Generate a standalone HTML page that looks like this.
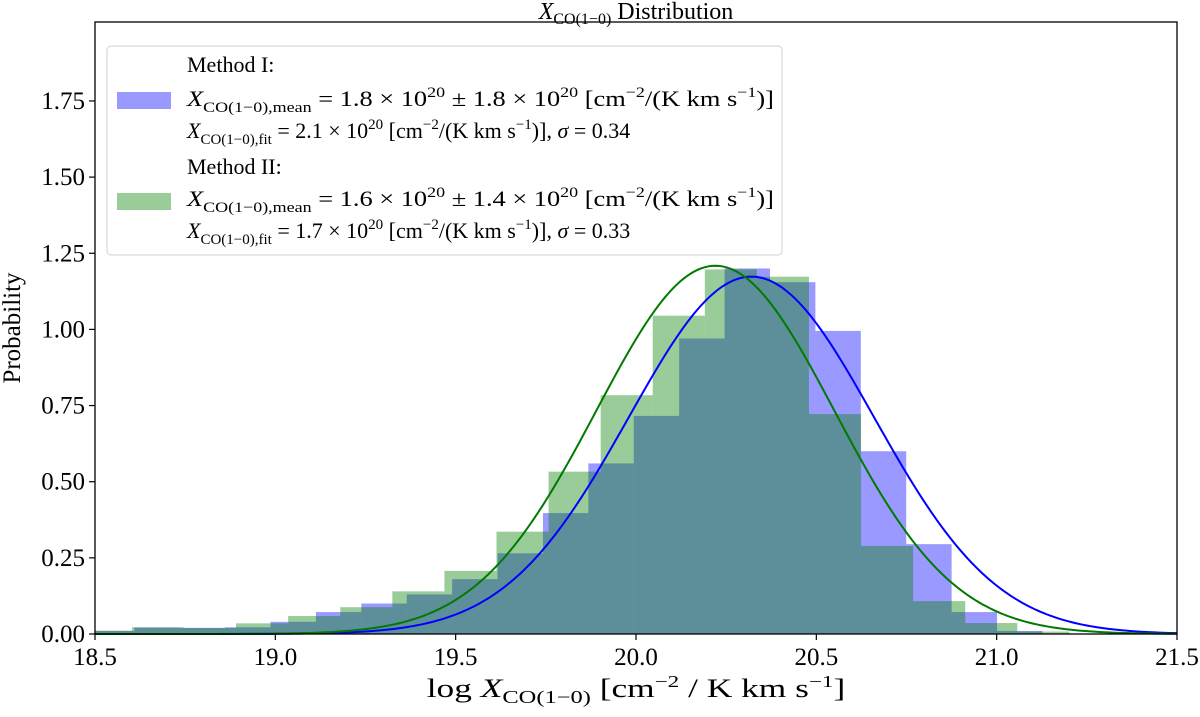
<!DOCTYPE html>
<html><head><meta charset="utf-8"><style>
html,body{margin:0;padding:0;background:#fff;}
svg{display:block;font-family:"Liberation Serif","DejaVu Serif",serif;}
</style></head><body>
<svg id="chart" width="1200" height="717" viewBox="0 0 1200 717">
<text x="636" y="19" font-size="24" text-anchor="middle"><tspan font-style="italic">X</tspan><tspan font-size="16" dy="5">CO(1−0)</tspan><tspan dy="-5"> Distribution</tspan></text>
<g id="bars"></g>
<g id="curves"></g>
<rect x="95" y="22" width="1082" height="612" fill="none" stroke="#000" stroke-width="1.3"/>
<g id="xticks"></g>
<g id="yticks"></g>
<g transform="translate(636,0) scale(1.36,1) translate(-636,0)">
<text x="636" y="697" font-size="26" text-anchor="middle">log <tspan font-style="italic">X</tspan><tspan font-size="18" dy="6">CO(1−0)</tspan><tspan dy="-6"> [cm</tspan><tspan font-size="17" dy="-10">−2</tspan><tspan dy="10"> / K km s</tspan><tspan font-size="17" dy="-10">−1</tspan><tspan dy="10">]</tspan></text>
</g>
<text transform="translate(20,328) rotate(-90)" font-size="25" text-anchor="middle">Probability</text>
<g>
<rect x="107" y="46" width="675" height="209" rx="4" fill="#fff" fill-opacity="0.85" stroke="#d0d0d0"/>
<rect x="117" y="92" width="54" height="17" fill="#0000ff" fill-opacity="0.4"/>
<rect x="117" y="193" width="54" height="17" fill="#008000" fill-opacity="0.4"/>
<g font-size="22">
<text x="187" y="72">Method I:</text>
<g transform="translate(187,0) scale(1.2,1) translate(-187,0)">
<text x="187" y="106"><tspan font-style="italic">X</tspan><tspan font-size="15" dy="6">CO(1−0),mean</tspan><tspan dy="-6"> = 1.8 × 10</tspan><tspan font-size="15" dy="-9">20</tspan><tspan dy="9"> ± 1.8 × 10</tspan><tspan font-size="15" dy="-9">20</tspan><tspan dy="9"> [cm</tspan><tspan font-size="15" dy="-9">−2</tspan><tspan dy="9">/(K km s</tspan><tspan font-size="15" dy="-9">−1</tspan><tspan dy="9">)]</tspan></text>
</g>
<text x="187" y="138"><tspan font-style="italic">X</tspan><tspan font-size="15" dy="6">CO(1−0),fit</tspan><tspan dy="-6"> = 2.1 × 10</tspan><tspan font-size="15" dy="-9">20</tspan><tspan dy="9"> [cm</tspan><tspan font-size="15" dy="-9">−2</tspan><tspan dy="9">/(K km s</tspan><tspan font-size="15" dy="-9">−1</tspan><tspan dy="9">)], </tspan><tspan font-style="italic">σ</tspan><tspan> = 0.34</tspan></text>
<text x="187" y="174">Method II:</text>
<g transform="translate(187,0) scale(1.2,1) translate(-187,0)">
<text x="187" y="206"><tspan font-style="italic">X</tspan><tspan font-size="15" dy="6">CO(1−0),mean</tspan><tspan dy="-6"> = 1.6 × 10</tspan><tspan font-size="15" dy="-9">20</tspan><tspan dy="9"> ± 1.4 × 10</tspan><tspan font-size="15" dy="-9">20</tspan><tspan dy="9"> [cm</tspan><tspan font-size="15" dy="-9">−2</tspan><tspan dy="9">/(K km s</tspan><tspan font-size="15" dy="-9">−1</tspan><tspan dy="9">)]</tspan></text>
</g>
<text x="187" y="238"><tspan font-style="italic">X</tspan><tspan font-size="15" dy="6">CO(1−0),fit</tspan><tspan dy="-6"> = 1.7 × 10</tspan><tspan font-size="15" dy="-9">20</tspan><tspan dy="9"> [cm</tspan><tspan font-size="15" dy="-9">−2</tspan><tspan dy="9">/(K km s</tspan><tspan font-size="15" dy="-9">−1</tspan><tspan dy="9">)], </tspan><tspan font-style="italic">σ</tspan><tspan> = 0.33</tspan></text>
</g>
</g>
</svg>
<script>
const blueHeights = [0.01,0.021,0.02,0.022,0.04,0.072,0.1,0.13,0.18,0.265,0.397,0.56,0.716,0.97,1.20,1.155,0.995,0.60,0.295,0.072,0.01];
const greenHeights = [0.011,0.022,0.02,0.035,0.059,0.088,0.14,0.207,0.336,0.533,0.784,1.045,1.197,1.173,0.722,0.289,0.108,0.036,0.008];
const blueBinStart = [18.483];
const blueBinWidth = [0.1259];
const greenBinStart = [18.458];
const greenBinWidth = [0.1444];
const fitMu = [20.32, 20.22];
const fitSigma = [0.34, 0.33];
const xTickLabels = ["18.5","19.0","19.5","20.0","20.5","21.0","21.5"];
const yTickLabels = ["0.00","0.25","0.50","0.75","1.00","1.25","1.50","1.75"];

const NS = "http://www.w3.org/2000/svg";
const X0 = 95, X1 = 1177, Y0 = 634, XMIN = 18.5, XMAX = 21.5, YSCALE = 304.6;
function xs(v){ return X0 + (v - XMIN) * (X1 - X0) / (XMAX - XMIN); }
function ys(v){ return Y0 - v * YSCALE; }
function mk(tag, attrs){ const e = document.createElementNS(NS, tag); for (const k in attrs) e.setAttribute(k, attrs[k]); return e; }

const bars = document.getElementById('bars');
function drawHist(heights, start, w, color, name){
  heights.forEach((h, i) => {
    let a = xs(start + i * w), b = xs(start + (i + 1) * w);
    a = Math.max(a, X0); b = Math.min(b, X1);
    if (b <= a) return;
    const r = mk('rect', {x: a, y: ys(h), width: b - a, height: Y0 - ys(h), fill: color, 'fill-opacity': 0.4});
    
    
    bars.appendChild(r);
  });
}
drawHist(blueHeights, blueBinStart[0], blueBinWidth[0], '#0000ff', 'method-1');
drawHist(greenHeights, greenBinStart[0], greenBinWidth[0], '#008000', 'method-2');

const curves = document.getElementById('curves');
const curveColors = ['#0000ff', '#007a00'];
fitMu.forEach((mu, k) => {
  const s = fitSigma[k];
  let d = '';
  for (let i = 0; i <= 300; i++) {
    const v = XMIN + (XMAX - XMIN) * i / 300;
    const p = Math.exp(-0.5 * ((v - mu) / s) ** 2) / (s * Math.sqrt(2 * Math.PI));
    d += (i ? 'L' : 'M') + xs(v).toFixed(2) + ',' + ys(p).toFixed(2);
  }
  const path = mk('path', {d: d, fill: 'none', stroke: curveColors[k], 'stroke-width': 2});
  
  
  curves.appendChild(path);
});

const xt = document.getElementById('xticks');
xTickLabels.forEach(l => {
  const x = xs(parseFloat(l));
  const t = mk('line', {x1: x, x2: x, y1: Y0, y2: Y0 + 6, stroke: '#000', 'stroke-width': 1.2});
  
  
  xt.appendChild(t);
  const tx = mk('text', {x: x, y: Y0 + 31, 'font-size': 25, 'text-anchor': 'middle'});
  tx.textContent = l;
  
  
  xt.appendChild(tx);
});
const yt = document.getElementById('yticks');
yTickLabels.forEach(l => {
  const y = ys(parseFloat(l));
  const t = mk('line', {x1: X0 - 6, x2: X0, y1: y, y2: y, stroke: '#000', 'stroke-width': 1.2});
  
  
  yt.appendChild(t);
  const tx = mk('text', {x: X0 - 10, y: y + 8, 'font-size': 25, 'text-anchor': 'end'});
  tx.textContent = l;
  
  
  yt.appendChild(tx);
});
</script>
</body></html>
